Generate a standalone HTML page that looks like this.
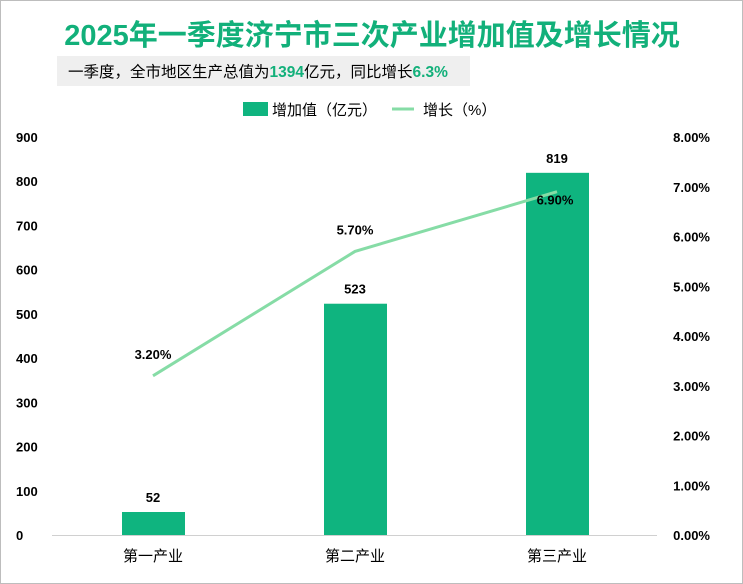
<!DOCTYPE html>
<html><head><meta charset="utf-8">
<style>
html,body{margin:0;padding:0;background:#fff;}
body{width:743px;height:584px;overflow:hidden;font-family:"Liberation Sans","Noto Sans CJK SC",sans-serif;}
#frame{position:absolute;left:0;top:0;width:741px;height:582px;border:1px solid #bdbdbd;}
</style></head>
<body>
<div id="frame"></div>
<svg id="chart" width="743" height="584" style="position:absolute;left:0;top:0">
  <text x="372" y="45" text-anchor="middle" font-size="29" font-weight="bold" fill="#12b07a" font-family="'Liberation Sans','Noto Sans CJK SC',sans-serif">2025年一季度济宁市三次产业增加值及增长情况</text>
  <rect x="57" y="56" width="413" height="30" fill="#efefef"/>
  <text x="68" y="77" font-size="15.5" fill="#000" font-family="'Liberation Sans','Noto Sans CJK SC',sans-serif">一季度，全市地区生产总值为<tspan fill="#12b07a" font-weight="bold">1394</tspan>亿元，同比增长<tspan fill="#12b07a" font-weight="bold">6.3%</tspan></text>
  <rect x="243" y="102" width="25" height="14" fill="#0fb47f"/>
  <text x="272" y="115" font-size="15" fill="#000">增加值（亿元）</text>
  <line x1="392" y1="109" x2="414" y2="109" stroke="#86dca6" stroke-width="3"/>
  <text x="423" y="115" font-size="15" fill="#000">增长（%）</text>
  <g id="plot"></g>
</svg>
<script>
const categories = ["第一产业","第二产业","第三产业"];
const values = [52, 523, 819];
const growth = [3.20, 5.70, 6.90];
const leftTicks = [0,100,200,300,400,500,600,700,800,900];
const rightTicks = [0,1,2,3,4,5,6,7,8];

const NS="http://www.w3.org/2000/svg";
const g=document.getElementById('plot');
const y0=535, yTop=137;
const yL=v=>y0-(v/900)*(y0-yTop);
const yR=v=>y0-(v/8)*(y0-yTop);
const xC=i=>153+i*202;
function mk(t,a){const e=document.createElementNS(NS,t);for(const k in a)e.setAttribute(k,a[k]);g.appendChild(e);return e;}

leftTicks.forEach(v=>{
  const t=mk('text',{x:16,y:yL(v)+5,'font-size':13,'font-weight':'bold',fill:'#000'});
  
  
  t.textContent=v;
});
rightTicks.forEach(v=>{
  const t=mk('text',{x:710,y:yR(v)+5,'font-size':13,'font-weight':'bold',fill:'#000','text-anchor':'end'});
  
  
  t.textContent=v.toFixed(2)+'%';
});
const ax=mk('line',{x1:52,y1:y0+0.5,x2:657,y2:y0+0.5,stroke:'#d0d0d0','stroke-width':1});



values.forEach((v,i)=>{
  const r=mk('rect',{x:xC(i)-31,y:yL(v),width:63,height:y0-yL(v),fill:'#0fb47f'});
  
  
  const t=mk('text',{x:xC(i),y:yL(v)-10,'font-size':13,'font-weight':'bold',fill:'#000','text-anchor':'middle'});
  
  
  t.textContent=v;
  const c=mk('text',{x:xC(i),y:y0+26,'font-size':15,fill:'#000','text-anchor':'middle'});
  
  
  c.textContent=categories[i];
});
const pl=mk('polyline',{points:growth.map((v,i)=>xC(i)+','+yR(v)).join(' '),fill:'none',stroke:'#86dca6','stroke-width':3});


growth.forEach((v,i)=>{
  const t=mk('text',{x:xC(i)+(i==2?-2:0),y:yR(v)+(i==2?13:-17),'font-size':13,'font-weight':'bold',fill:'#000','text-anchor':'middle'});
  
  
  t.textContent=v.toFixed(2)+'%';
});
</script>
</body></html>
